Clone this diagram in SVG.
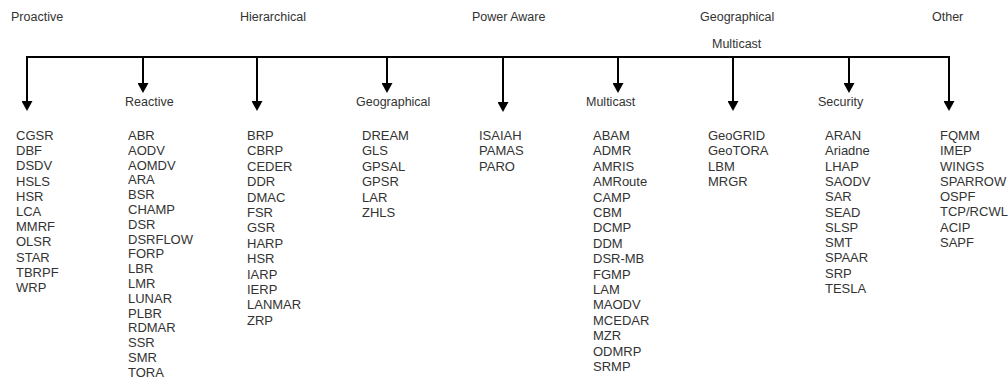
<svg xmlns="http://www.w3.org/2000/svg" width="1008" height="389" viewBox="0 0 1008 389">
<style>
.hd{font-family:"Liberation Sans",Arial,sans-serif;font-size:12.5px;fill:#333}
.ls{font-family:"Liberation Sans",Arial,sans-serif;font-size:13px;fill:#333}
.ln{stroke:#000;stroke-width:2;fill:none}
</style>
<defs>
<marker id="ah" markerUnits="userSpaceOnUse" markerWidth="10" markerHeight="11" viewBox="0 0 10 11" refX="1" refY="5.5" orient="auto">
<path d="M0,0 L10,5.5 L0,11 Z" fill="#000"/>
</marker>
</defs>
<g id="headers">
<text class="hd" x="11" y="21">Proactive</text>
<text class="hd" x="240" y="21">Hierarchical</text>
<text class="hd" x="472" y="21">Power Aware</text>
<text class="hd" x="700" y="21">Geographical</text>
<text class="hd" x="712" y="48">Multicast</text>
<text class="hd" x="932" y="21">Other</text>
</g>
<g id="connectors">
<path class="ln" d="M27,70 V57 H949 V70"/>
<path class="ln" d="M27,57 V102" marker-end="url(#ah)"/>
<path class="ln" d="M949,57 V102" marker-end="url(#ah)"/>
<path class="ln" d="M143,57 V84" marker-end="url(#ah)"/>
<path class="ln" d="M257,57 V102" marker-end="url(#ah)"/>
<path class="ln" d="M387,57 V84" marker-end="url(#ah)"/>
<path class="ln" d="M503,57 V103" marker-end="url(#ah)"/>
<path class="ln" d="M618,57 V84" marker-end="url(#ah)"/>
<path class="ln" d="M733,57 V102" marker-end="url(#ah)"/>
<path class="ln" d="M849,57 V84" marker-end="url(#ah)"/>
</g>
<g id="proactive">
<text class="ls" y="140"><tspan x="16">CGSR</tspan><tspan x="16" dy="15.2">DBF</tspan><tspan x="16" dy="15.2">DSDV</tspan><tspan x="16" dy="15.2">HSLS</tspan><tspan x="16" dy="15.2">HSR</tspan><tspan x="16" dy="15.2">LCA</tspan><tspan x="16" dy="15.2">MMRF</tspan><tspan x="16" dy="15.2">OLSR</tspan><tspan x="16" dy="15.2">STAR</tspan><tspan x="16" dy="15.2">TBRPF</tspan><tspan x="16" dy="15.2">WRP</tspan></text>
</g>
<g id="reactive">
<text class="hd" x="125" y="106">Reactive</text>
<text class="ls" y="140"><tspan x="128">ABR</tspan><tspan x="128" dy="14.8">AODV</tspan><tspan x="128" dy="14.8">AOMDV</tspan><tspan x="128" dy="14.8">ARA</tspan><tspan x="128" dy="14.8">BSR</tspan><tspan x="128" dy="14.8">CHAMP</tspan><tspan x="128" dy="14.8">DSR</tspan><tspan x="128" dy="14.8">DSRFLOW</tspan><tspan x="128" dy="14.8">FORP</tspan><tspan x="128" dy="14.8">LBR</tspan><tspan x="128" dy="14.8">LMR</tspan><tspan x="128" dy="14.8">LUNAR</tspan><tspan x="128" dy="14.8">PLBR</tspan><tspan x="128" dy="14.8">RDMAR</tspan><tspan x="128" dy="14.8">SSR</tspan><tspan x="128" dy="14.8">SMR</tspan><tspan x="128" dy="14.8">TORA</tspan></text>
</g>
<g id="hierarchical">
<text class="ls" y="140"><tspan x="247">BRP</tspan><tspan x="247" dy="15.4">CBRP</tspan><tspan x="247" dy="15.4">CEDER</tspan><tspan x="247" dy="15.4">DDR</tspan><tspan x="247" dy="15.4">DMAC</tspan><tspan x="247" dy="15.4">FSR</tspan><tspan x="247" dy="15.4">GSR</tspan><tspan x="247" dy="15.4">HARP</tspan><tspan x="247" dy="15.4">HSR</tspan><tspan x="247" dy="15.4">IARP</tspan><tspan x="247" dy="15.4">IERP</tspan><tspan x="247" dy="15.4">LANMAR</tspan><tspan x="247" dy="15.4">ZRP</tspan></text>
</g>
<g id="geographical">
<text class="hd" x="356" y="106">Geographical</text>
<text class="ls" y="140"><tspan x="362">DREAM</tspan><tspan x="362" dy="15.4">GLS</tspan><tspan x="362" dy="15.4">GPSAL</tspan><tspan x="362" dy="15.4">GPSR</tspan><tspan x="362" dy="15.4">LAR</tspan><tspan x="362" dy="15.4">ZHLS</tspan></text>
</g>
<g id="power-aware">
<text class="ls" y="140"><tspan x="479">ISAIAH</tspan><tspan x="479" dy="15.4">PAMAS</tspan><tspan x="479" dy="15.4">PARO</tspan></text>
</g>
<g id="multicast">
<text class="hd" x="586" y="106">Multicast</text>
<text class="ls" y="140"><tspan x="593">ABAM</tspan><tspan x="593" dy="15.4">ADMR</tspan><tspan x="593" dy="15.4">AMRIS</tspan><tspan x="593" dy="15.4">AMRoute</tspan><tspan x="593" dy="15.4">CAMP</tspan><tspan x="593" dy="15.4">CBM</tspan><tspan x="593" dy="15.4">DCMP</tspan><tspan x="593" dy="15.4">DDM</tspan><tspan x="593" dy="15.4">DSR-MB</tspan><tspan x="593" dy="15.4">FGMP</tspan><tspan x="593" dy="15.4">LAM</tspan><tspan x="593" dy="15.4">MAODV</tspan><tspan x="593" dy="15.4">MCEDAR</tspan><tspan x="593" dy="15.4">MZR</tspan><tspan x="593" dy="15.4">ODMRP</tspan><tspan x="593" dy="15.4">SRMP</tspan></text>
</g>
<g id="geo-multicast">
<text class="ls" y="140"><tspan x="708">GeoGRID</tspan><tspan x="708" dy="15.4">GeoTORA</tspan><tspan x="708" dy="15.4">LBM</tspan><tspan x="708" dy="15.4">MRGR</tspan></text>
</g>
<g id="security">
<text class="hd" x="818" y="106">Security</text>
<text class="ls" y="140"><tspan x="825">ARAN</tspan><tspan x="825" dy="15.3">Ariadne</tspan><tspan x="825" dy="15.3">LHAP</tspan><tspan x="825" dy="15.3">SAODV</tspan><tspan x="825" dy="15.3">SAR</tspan><tspan x="825" dy="15.3">SEAD</tspan><tspan x="825" dy="15.3">SLSP</tspan><tspan x="825" dy="15.3">SMT</tspan><tspan x="825" dy="15.3">SPAAR</tspan><tspan x="825" dy="15.3">SRP</tspan><tspan x="825" dy="15.3">TESLA</tspan></text>
</g>
<g id="other">
<text class="ls" y="140"><tspan x="940">FQMM</tspan><tspan x="940" dy="15.25">IMEP</tspan><tspan x="940" dy="15.25">WINGS</tspan><tspan x="940" dy="15.25">SPARROW</tspan><tspan x="940" dy="15.25">OSPF</tspan><tspan x="940" dy="15.25">TCP/RCWL</tspan><tspan x="940" dy="15.25">ACIP</tspan><tspan x="940" dy="15.25">SAPF</tspan></text>
</g>
</svg>
